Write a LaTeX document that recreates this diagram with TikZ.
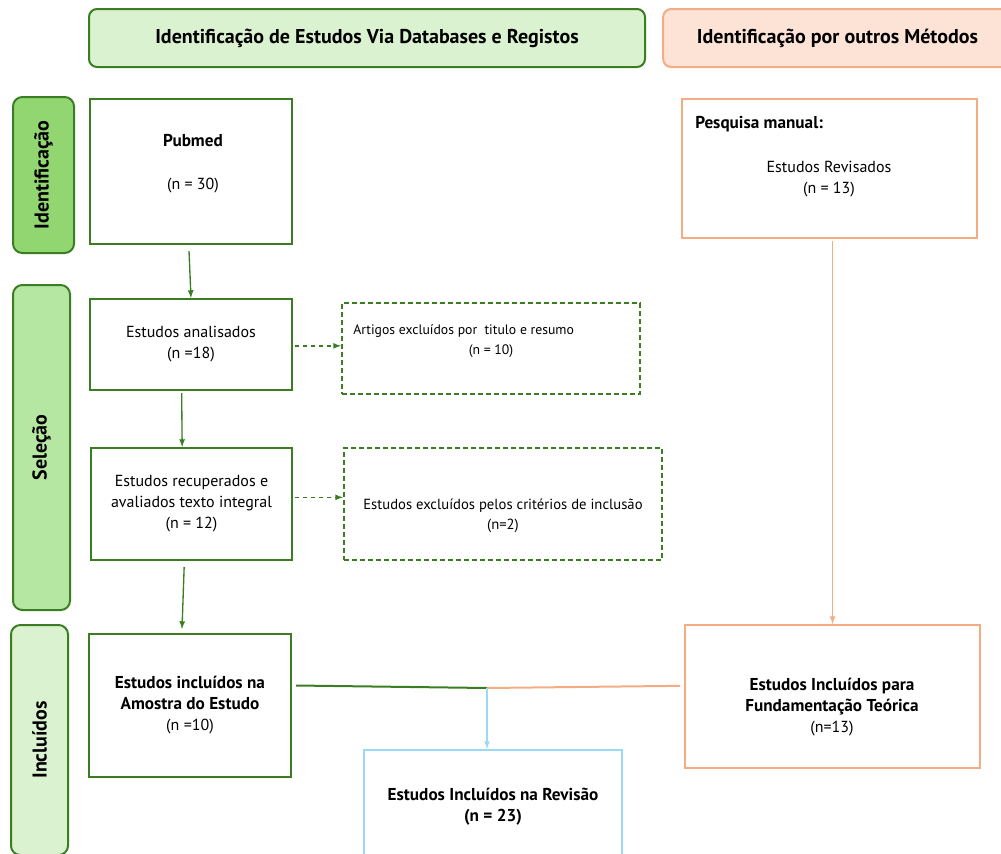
\documentclass[tikz,border=0pt]{standalone}
\usepackage{fontspec}
\setmainfont{PT Sans}
\usetikzlibrary{shapes.geometric, arrows, positioning}
\definecolor{dbgreen}{HTML}{3B7D23}
\definecolor{hdrgreen}{HTML}{DAF2D0}
\definecolor{idgreen}{HTML}{92D672}
\definecolor{selgreen}{HTML}{B5E6A2}
\definecolor{othorange}{HTML}{F4AC82}
\definecolor{hdrorange}{HTML}{FCE3D6}
\definecolor{revblue}{HTML}{9BDAF3}
\newcommand{\heavy}[1]{{\fontsize{12.9}{15.75}\selectfont\bfseries #1}}
\tikzstyle{header} = [rectangle, rounded corners=6pt, minimum height=43.5pt, line width=1.5pt, text centered, font=\fontsize{15}{18}\selectfont\bfseries]
\tikzstyle{phase} = [rectangle, rounded corners=7pt, line width=1.5pt, draw=dbgreen, rotate=90, font=\fontsize{15}{18}\selectfont\bfseries]
\tikzstyle{process} = [rectangle, line width=1.5pt, draw=dbgreen, align=center, font=\fontsize{12}{15.75}\selectfont]
\tikzstyle{excluded} = [rectangle, line width=1.5pt, draw=dbgreen, dash pattern=on 4pt off 2pt, align=center, font=\fontsize{12}{15.75}\selectfont]
\tikzstyle{other} = [rectangle, line width=1.5pt, draw=othorange, align=center, font=\fontsize{12}{15.75}\selectfont]
\tikzstyle{boxtext} = [align=center, inner sep=0pt, font=\fontsize{12}{15.75}\selectfont]
\tikzstyle{arrow} = [line width=1pt, ->, >=latex]

\begin{document}
\begin{tikzpicture}[x=0.75pt, y=-0.75pt]
	\clip (0,0) rectangle (1001,854);
	% column headers
	\node (hdrdb) [header, draw=dbgreen, fill=hdrgreen, minimum width=417pt] at (367,38) {Identificação de Estudos Via Databases e Registos};
	\node (hdrother) [header, draw=othorange, fill=hdrorange, minimum width=290pt] at (856.5,38) {\hspace{-28.5pt}Identificação por outros Métodos};
	% phases
	\node (phid) [phase, fill=idgreen, minimum width=117pt, minimum height=45.75pt] at (43.5,175) {Identificação};
	\node (phsel) [phase, fill=selgreen, minimum width=243.75pt, minimum height=42.75pt] at (41.5,447.5) {Seleção};
	\node (phinc) [phase, fill=hdrgreen, minimum width=172.5pt, minimum height=42.75pt] at (39.5,740) {Incluídos};
	% databases
	\node (pubmed) [process, minimum width=151.5pt, minimum height=108.75pt] at (191,171.5) {};
	\node (pubmedtxt) [boxtext] at (193,163.5) {\heavy{Pubmed}\\[16pt](n = 30)};
	\node (analisados) [process, minimum width=151.5pt, minimum height=68.25pt] at (191,344.5) {Estudos analisados\\(n =18)};
	\node (artigos) [excluded, minimum width=223.5pt, minimum height=68.25pt] at (491,348.5) {};
	\node (artigostxt) [boxtext, anchor=west, font=\fontsize{10.3}{15}\selectfont] at (353,331) {Artigos excluídos por\ \ titulo e resumo};
	\node (artigosn) [boxtext, font=\fontsize{10.3}{15}\selectfont] at (491,351) {(n = 10)};
	\node (recuperados) [process, minimum width=150.75pt, minimum height=84pt] at (191.5,504) {Estudos recuperados e\\avaliados texto integral\\(n = 12)};
	\node (criterios) [excluded, minimum width=238.5pt, minimum height=84pt] at (503,504) {};
	\node (criteriostxt) [boxtext, font=\fontsize{11}{15}\selectfont] at (503,516) {Estudos excluídos pelos critérios de inclusão\\(n=2)};
	\node (amostra) [process, minimum width=151.5pt, minimum height=107.25pt] at (190,705.5) {\heavy{Estudos incluídos na}\\\heavy{Amostra do Estudo}\\(n =10)};
	% other methods
	\node (pesquisa) [other, minimum width=221.25pt, minimum height=104.25pt] at (829.5,168.5) {};
	\node (pesquisatxt) [boxtext, anchor=west] at (695,124) {\heavy{Pesquisa manual:}};
	\node (revisadostxt) [boxtext] at (829,179) {Estudos Revisados\\(n = 13)};
	\node (fundamentacao) [other, minimum width=221.25pt, minimum height=107.25pt] at (832.5,696.5) {};
	\node (fundamentacaotxt) [boxtext] at (832,707) {\heavy{Estudos Incluídos para}\\\heavy{Fundamentação Teórica}\\(n=13)};
	% result
	\node (revisao) [process, draw=revblue, minimum width=193.5pt, minimum height=85.5pt] at (493,807) {\heavy{Estudos Incluídos na Revisão}\\\heavy{(n = 23)}};
	\coordinate (join) at (487,688);
	% connectors
	\draw [arrow, dbgreen] ([yshift=-4.5pt]pubmed.south -| 189,0) -- (pubmed.south |- analisados.north);
	\draw [arrow, dbgreen] ([xshift=-7pt,yshift=-1.5pt]analisados.south) -- ([xshift=-7pt]recuperados.north);
	\draw [arrow, dbgreen] ([xshift=-5.5pt,yshift=-4.5pt]recuperados.south) -- ([xshift=-6pt,yshift=3pt]amostra.north);
	\draw [arrow, dbgreen, dashed] ([xshift=1.5pt,yshift=-1pt]analisados.east) -- ([yshift=-1pt]analisados.east -| artigos.west);
	\draw [arrow, dbgreen, dashed] ([xshift=1.5pt,yshift=5pt]recuperados.east) -- ([yshift=5pt]recuperados.east -| criterios.west);
	\draw [arrow, othorange] ([yshift=-1.5pt]fundamentacao.north |- pesquisa.south) -- (fundamentacao.north);
	\draw [line width=1.5pt, dbgreen] ([xshift=3pt,yshift=15pt]amostra.east) -- (join);
	\draw [line width=1.5pt, othorange] (join) -- ([xshift=-3pt,yshift=8pt]fundamentacao.west);
	\draw [arrow, revblue] (join) -- (join |- revisao.north);
\end{tikzpicture}
\end{document}
